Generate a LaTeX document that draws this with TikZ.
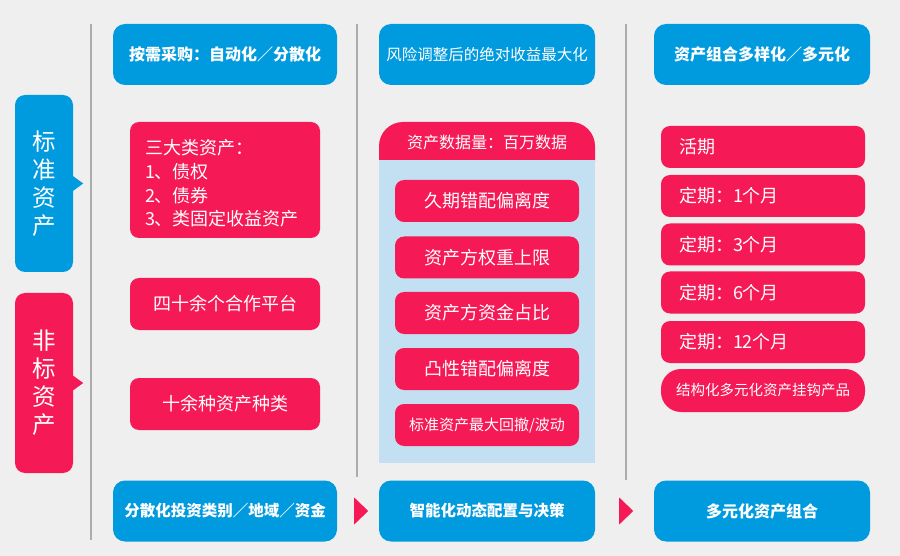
\documentclass[tikz,border=0pt]{standalone}
\usepackage{fontspec}
\newfontfamily\cjk{Noto Sans CJK SC}
\usetikzlibrary{calc}
\definecolor{bgc}{RGB}{239,239,239}
\definecolor{bluec}{RGB}{0,154,222}
\definecolor{redc}{RGB}{245,25,85}
\definecolor{panelc}{RGB}{195,224,243}
\definecolor{linec}{RGB}{172,172,172}
\newcommand{\fs}[1]{\fontsize{#1}{#1}\selectfont}
\tikzset{
  base/.style={text=white, inner sep=0pt, font=\cjk},
  bluebox/.style={base, fill=bluec, rounded corners=12pt, minimum width=224pt, minimum height=61pt},
  redbox/.style={base, fill=redc, rounded corners=9pt},
  c1box/.style={redbox, minimum width=190pt},
  c2box/.style={redbox, minimum width=184pt, minimum height=42pt, font=\cjk\fs{18}},
  c3box/.style={redbox, minimum width=204pt, minimum height=42pt, text width=168pt, align=left, font=\cjk\fs{18}},
  divider/.style={draw=linec, line width=2pt},
}
\begin{document}
\begin{tikzpicture}[x=1pt,y=-1pt]
\useasboundingbox (0,0) rectangle (900,556);
\fill[bgc] (0,0) rectangle (900,556);

% dividers
\draw[divider] (91,24) -- (91,540);
\draw[divider] (357,24) -- (357,477);
\draw[divider] (626,24) -- (626,480);

% left category boxes
\node[base, fill=bluec, rounded corners=10pt, minimum width=58pt, minimum height=177pt, align=center, font=\cjk\fs{23.5}\setlength{\baselineskip}{28pt}] (std) at (44,183.5) {标\\准\\资\\产};
\fill[bluec] ([yshift=8pt,xshift=-1pt]std.east) -- ([xshift=10pt]std.east) -- ([yshift=-8pt,xshift=-1pt]std.east) -- cycle;
\node[base, fill=redc, rounded corners=10pt, minimum width=58pt, minimum height=180pt, align=center, font=\cjk\fs{23.5}\setlength{\baselineskip}{28pt}] (nstd) at (44,383) {非\\标\\资\\产};
\fill[redc] ([yshift=8pt,xshift=-1pt]nstd.east) -- ([xshift=10pt]nstd.east) -- ([yshift=-8pt,xshift=-1pt]nstd.east) -- cycle;

% top boxes
\node[bluebox, font=\cjk\bfseries\fs{16}] (t1) at (225,54.5) {按需采购：自动化／分散化};
\node[bluebox, minimum width=216pt, font=\cjk\fs{15.5}] (t2) at (487,54.5) {风险调整后的绝对收益最大化};
\node[bluebox, minimum width=216pt, font=\cjk\bfseries\fs{16}] (t3) at (762,54.5) {资产组合多样化／多元化};

% bottom boxes
\node[bluebox, font=\cjk\bfseries\fs{15.5}] (b1) at (225,511) {分散化投资类别／地域／资金};
\node[bluebox, minimum width=216pt, font=\cjk\bfseries\fs{15.5}] (b2) at (487,511) {智能化动态配置与决策};
\node[bluebox, minimum width=216pt, font=\cjk\bfseries\fs{16}] (b3) at (762,511) {多元化资产组合};
\fill[redc] ($(b1.east)+(17,-13.5)$) -- ($(b1.east)+(31,0)$) -- ($(b1.east)+(17,13.5)$) -- cycle;
\fill[redc] ($(b2.east)+(24,-13.5)$) -- ($(b2.east)+(38,0)$) -- ($(b2.east)+(24,13.5)$) -- cycle;

% column 1
\node[c1box, minimum height=116pt, text width=160pt, align=left, font=\cjk\fs{18}\setlength{\baselineskip}{23.7pt}] (c1a) at (225,180) {\rule{0pt}{22pt}三大类资产：\\1、债权\\2、债券\\3、类固定收益资产};
\node[c1box, minimum height=52pt, font=\cjk\fs{18}] (c1b) at (225,304) {四十余个合作平台};
\node[c1box, minimum height=52pt, font=\cjk\fs{18}] (c1c) at (225,404) {十余种资产种类};

% column 2
\fill[redc, rounded corners=24pt] (379,122) rectangle (595,185);
\fill[panelc] (379,160) rectangle (595,463);
\node[base, font=\cjk\fs{16}] (hdr) at (487,142) {资产数据量：百万数据};
\node[c2box] (c2a) at (487,201) {久期错配偏离度};
\node[c2box] (c2b) at (487,257.5) {资产方权重上限};
\node[c2box] (c2c) at (487,313) {资产方资金占比};
\node[c2box] (c2d) at (487,369) {凸性错配偏离度};
\node[c2box, font=\cjk\fs{15}] (c2e) at (487,425) {标准资产最大回撤/波动};

% column 3
\node[c3box] (c3a) at (763,147) {活期};
\node[c3box] (c3b) at (763,196) {定期：1个月};
\node[c3box] (c3c) at (763,244.5) {定期：3个月};
\node[c3box] (c3d) at (763,292.5) {定期：6个月};
\node[c3box] (c3e) at (763,342) {定期：12个月};
\node[redbox, rounded corners=20pt, minimum width=204pt, minimum height=43pt, font=\cjk\fs{14.5}] (c3f) at (763,390.5) {结构化多元化资产挂钩产品};
\end{tikzpicture}
\end{document}
